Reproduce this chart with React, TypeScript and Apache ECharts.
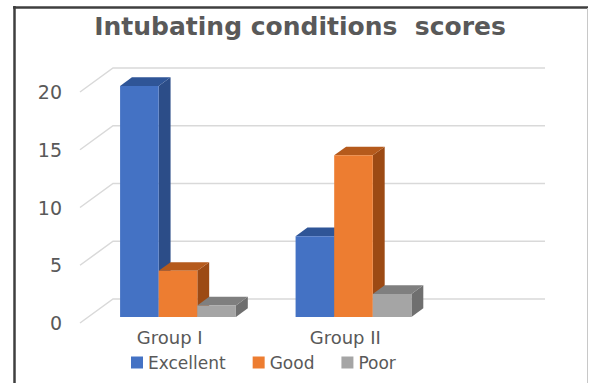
import React, { useEffect, useRef } from "react";
import * as echarts from "echarts";

const categories = ["Group I", "Group II"];
const seriesNames = ["Excellent", "Good", "Poor"];
const excellent = [20, 7];
const good = [4, 14];
const poor = [1, 2];
const yTicks = [0, 5, 10, 15, 20];

const seriesValues = [excellent, good, poor];
const frontColors = ["#4472C4", "#ED7D31", "#A5A5A5"];
const topColors = ["#2F5597", "#B55A1C", "#7F7F7F"];
const sideColors = ["#2C4D88", "#9C4A14", "#6F6F6F"];

const DX = 33;
const DY = -24;
const F0 = 0.25;
const F1 = 0.61;

export default function App() {
  const ref = useRef<HTMLDivElement>(null);
  useEffect(() => {
    document.body.style.margin = "0";
    const chart = echarts.init(ref.current!, undefined, { renderer: "svg" });
    const font = "'DejaVu Sans', sans-serif";
    const gridSeries: any = {
      type: "custom",
      name: "grid",
      silent: true,
      legendHoverLink: false,
      data: yTicks.map((v) => [0, v]),
      renderItem: (params: any, api: any) => {
        const cs = params.coordSys;
        const p = api.coord([0, api.value(1)]);
        const x0 = cs.x - 2;
        const y = p[1];
        return {
          type: "polyline",
          shape: {
            points: [
              [x0, y],
              [x0 + DX, y + DY],
              [x0 + DX + 432, y + DY],
            ],
          },
          style: { stroke: "#D9D9D9", lineWidth: 1.5, fill: "none" },
        };
      },
      z: 1,
    };
    const barSeries = seriesNames.map((name, s) => ({
      type: "custom",
      name,
      itemStyle: { color: frontColors[s] },
      data: seriesValues[s].map((v, i) => [i, v]),
      z: 2 + s,
      renderItem: (params: any, api: any) => {
        const cat = api.value(0);
        const val = api.value(1);
        const base = api.coord([cat, 0]);
        const top = api.coord([cat, val]);
        const band = api.size([1, 0])[0];
        const w = band * 0.22;
        const x0 = base[0] - 1.5 * w + s * w + F0 * DX;
        const yb = base[1] + F0 * DY;
        const yt = top[1] + F0 * DY;
        const ddx = (F1 - F0) * DX;
        const ddy = (F1 - F0) * DY;
        return {
          type: "group",
          children: [
            {
              type: "polygon",
              shape: {
                points: [
                  [x0 + w, yt],
                  [x0 + w + ddx, yt + ddy],
                  [x0 + w + ddx, yb + ddy],
                  [x0 + w, yb],
                ],
              },
              style: { fill: sideColors[s] },
            },
            {
              type: "polygon",
              shape: {
                points: [
                  [x0, yt],
                  [x0 + w, yt],
                  [x0 + w + ddx, yt + ddy],
                  [x0 + ddx, yt + ddy],
                ],
              },
              style: { fill: topColors[s] },
            },
            {
              type: "rect",
              shape: { x: x0, y: yt, width: w, height: yb - yt },
              style: { fill: frontColors[s] },
            },
          ],
        };
      },
    }));
    chart.setOption({
      animation: false,
      title: {
        text: "Intubating conditions  scores",
        left: 295,
        textAlign: "center",
        top: 9,
        textStyle: {
          fontFamily: font,
          fontSize: 25,
          fontWeight: "bold",
          color: "#595959",
        },
      },
      legend: {
        data: seriesNames,
        left: 126,
        top: 349,
        icon: "rect",
        itemWidth: 12,
        itemHeight: 12,
        itemGap: 27,
        textStyle: { fontFamily: font, fontSize: 17, color: "#595959" },
      },
      grid: { left: 82, right: 156, top: 92, bottom: 60 },
      xAxis: {
        type: "category",
        data: categories,
        axisLine: { show: false },
        axisTick: { show: false },
        axisLabel: {
          margin: 5,
          fontFamily: font,
          fontSize: 18,
          color: "#595959",
        },
      },
      yAxis: {
        type: "value",
        min: 0,
        max: 20,
        interval: 5,
        axisLine: { show: false },
        axisTick: { show: false },
        splitLine: { show: false },
        axisLabel: {
          margin: 20,
          fontFamily: font,
          fontSize: 19,
          color: "#595959",
        },
      },
      graphic: [
        {
          type: "line",
          shape: { x1: 14.5, y1: 6, x2: 14.5, y2: 383 },
          style: { stroke: "#3F3F3F", lineWidth: 2.5 },
        },
        {
          type: "line",
          shape: { x1: 13, y1: 7.5, x2: 588, y2: 7.5 },
          style: { stroke: "#3F3F3F", lineWidth: 2.5 },
        },
        {
          type: "line",
          shape: { x1: 587.5, y1: 8, x2: 587.5, y2: 383 },
          style: { stroke: "#C8C8C8", lineWidth: 1 },
        },
      ],
      series: [gridSeries, ...barSeries],
    });
    return () => chart.dispose();
  }, []);
  return <div ref={ref} style={{ width: 589, height: 383 }} />;
}
